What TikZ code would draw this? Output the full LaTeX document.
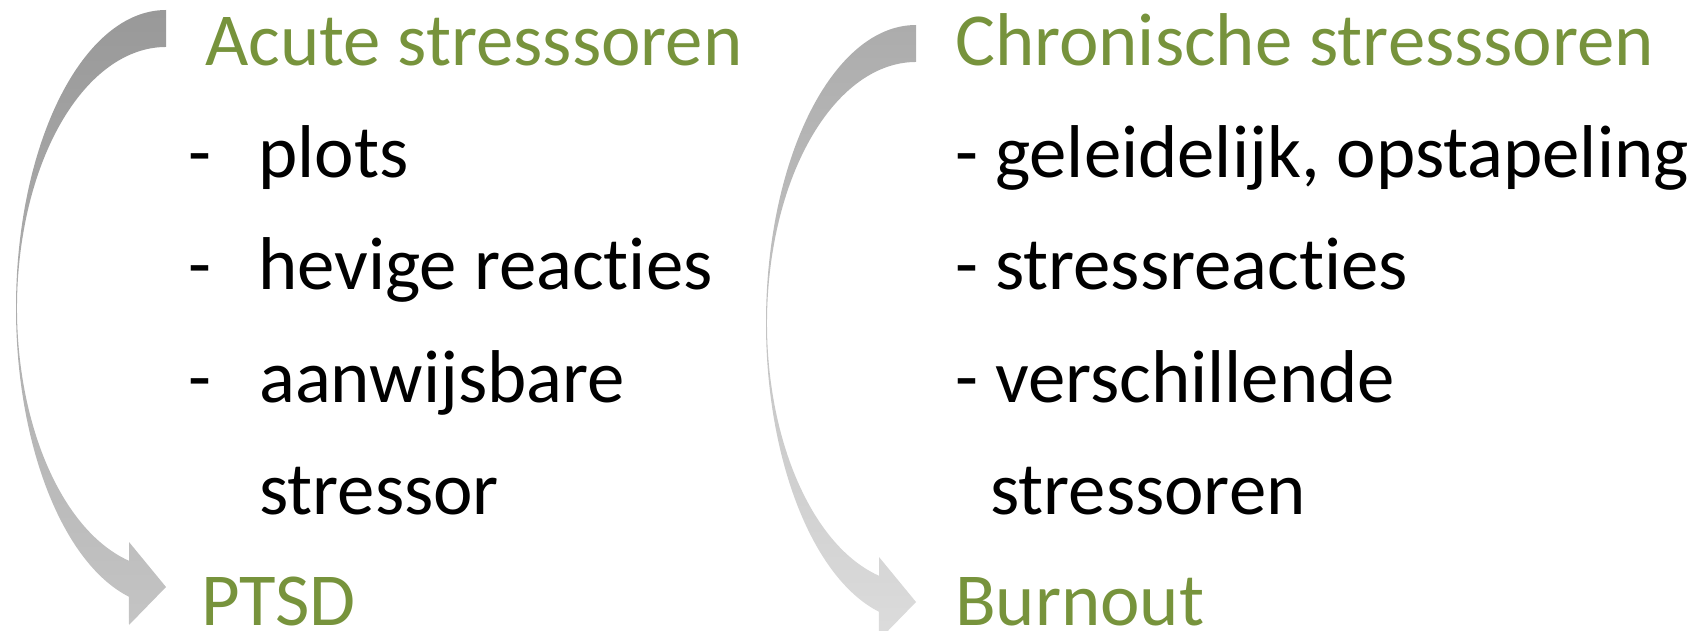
\documentclass[tikz,border=0pt]{standalone}
\usepackage{fontspec}
\setmainfont{Carlito}[Ligatures={NoCommon}]
\usepackage{tikz}
\usetikzlibrary{positioning}
\definecolor{olijf}{HTML}{77933C}
\definecolor{grijsA}{HTML}{999999}
\definecolor{grijsB}{HTML}{C4C4C4}
\definecolor{grijsC}{HTML}{ACACAC}
\definecolor{grijsD}{HTML}{DCDCDC}
\tikzstyle{kop} = [anchor=base west, inner sep=0pt, text=olijf, font=\fontsize{74.8}{90}\selectfont]
\tikzstyle{punt} = [anchor=base west, inner sep=0pt, text=black, font=\fontsize{74.8}{90}\selectfont]

\begin{document}
\begin{tikzpicture}[x=1pt, y=1pt]
\useasboundingbox (0,0) rectangle (1702,630);

% gebogen pijl links
\path[top color=grijsA, bottom color=grijsB] (166,620) arc[start angle=90, end angle=255.7, x radius=150, y radius=298] -- (129,5) -- (166,43) -- (129,88) -- (129,69.2) arc[start angle=255.62, end angle=90, x radius=149, y radius=261] -- cycle;

% gebogen pijl rechts
\begin{scope}[shift={(750,-15)}]
\path[top color=grijsC, bottom color=grijsD] (166,620) arc[start angle=90, end angle=255.7, x radius=150, y radius=298] -- (129,5) -- (166,43) -- (129,88) -- (129,69.2) arc[start angle=255.62, end angle=90, x radius=149, y radius=261] -- cycle;
\end{scope}

% acuut
\node (acuut) [kop] at (205,564) {Acute stresssoren};
\node (streep1) [punt] at (188,452) {-};
\node (plots) [punt] at (258,452) {plots};
\node (streep2) [punt] at (188,340) {-};
\node (hevig) [punt] at (258,340) {hevige reacties};
\node (streep3) [punt] at (188,228) {-};
\node (aanwijs) [punt] at (259,228) {aanwijsbare};
\node (stressor) [punt] at (259,116) {stressor};
\node (ptsd) [kop] at (201,5) {PTSD};

% chronisch
\node (chronisch) [kop] at (955,564) {Chronische stresssoren};
\node (geleidelijk) [punt] at (955,452) {- geleidelijk, opstapeling};
\node (reacties) [punt] at (955,340) {- stressreacties};
\node (verschil) [punt] at (955,228) {- verschillende};
\node (stressoren) [punt] at (990,116) {stressoren};
\node (burnout) [kop] at (955,5) {Burnout};
\end{tikzpicture}
\end{document}
